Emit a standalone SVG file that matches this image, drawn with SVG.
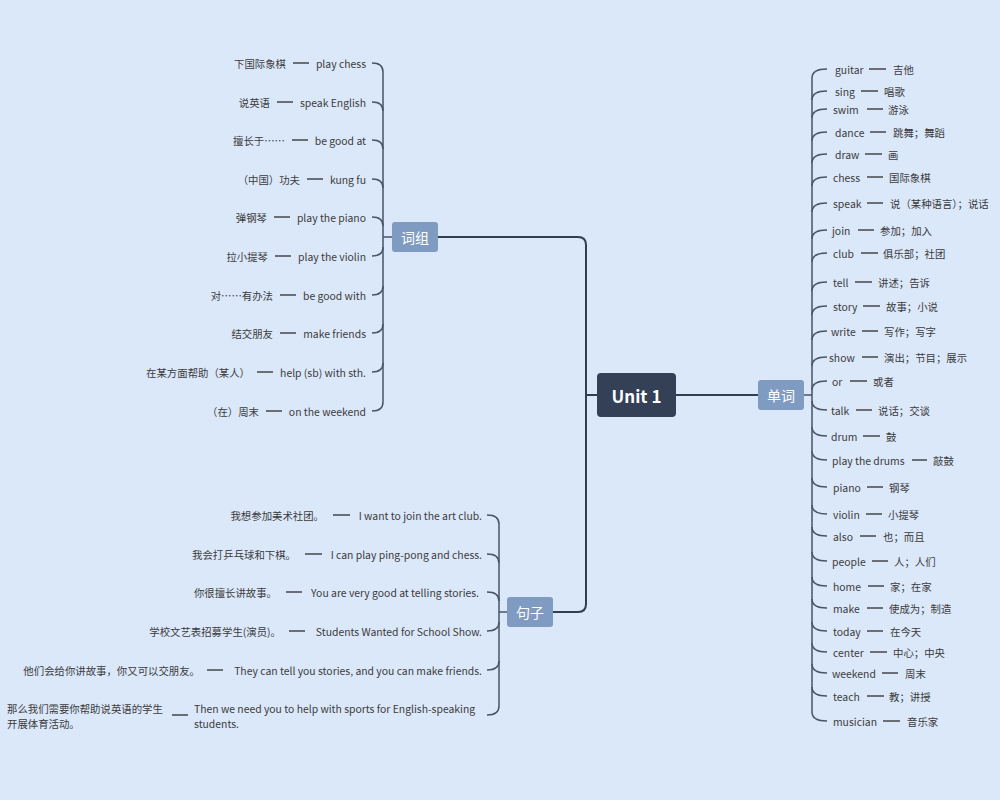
<svg xmlns="http://www.w3.org/2000/svg" width="1000" height="800" viewBox="0 0 1000 800">
<style>
.t{font-family:"Noto Sans CJK SC","Noto Sans",sans-serif;font-size:10.4px;fill:#3b3b3b;dominant-baseline:central}
.e{text-anchor:end}
.d{stroke:#3b3b3b;stroke-width:1.4}
.h{fill:none;stroke:#4a5465;stroke-width:1.5}
.tr{fill:none;stroke:#323d4f;stroke-width:2}
.cat{fill:#7f9bc1}
.ct{font-family:"Noto Sans CJK SC","Noto Sans",sans-serif;font-size:14px;fill:#fff;text-anchor:middle;dominant-baseline:central}
</style>
<rect width="1000" height="800" fill="#dbe8fa"/>
<g id="connectors">
<path class="tr" d="M438,237 H578 Q586,237 586,245 V604 Q586,612 578,612 H553"/>
<path class="tr" d="M586,395 H597"/>
<path class="tr" d="M676,395 H758"/>
<path class="h" d="M804,395 H812 M812,78 V712"/>
<path class="h" d="M392,237 H383 M383,72 V402"/>
<path class="h" d="M507,612 H499 M499,524 V706"/>
<g id="hooks-right">
<path class="h" d="M812,78 Q812,69 827,69"/>
<path class="h" d="M812,100 Q812,91 827,91"/>
<path class="h" d="M812,118 Q812,109 827,109"/>
<path class="h" d="M812,141 Q812,132 827,132"/>
<path class="h" d="M812,163 Q812,154 827,154"/>
<path class="h" d="M812,186 Q812,177 827,177"/>
<path class="h" d="M812,212 Q812,203 827,203"/>
<path class="h" d="M812,239 Q812,230 827,230"/>
<path class="h" d="M812,262 Q812,253 827,253"/>
<path class="h" d="M812,291 Q812,282 827,282"/>
<path class="h" d="M812,315 Q812,306 827,306"/>
<path class="h" d="M812,340 Q812,331 827,331"/>
<path class="h" d="M812,366 Q812,357 827,357"/>
<path class="h" d="M812,390 Q812,381 827,381"/>
<path class="h" d="M812,401 Q812,410 827,410"/>
<path class="h" d="M812,427 Q812,436 827,436"/>
<path class="h" d="M812,451 Q812,460 827,460"/>
<path class="h" d="M812,478 Q812,487 827,487"/>
<path class="h" d="M812,505 Q812,514 827,514"/>
<path class="h" d="M812,527 Q812,536 827,536"/>
<path class="h" d="M812,552 Q812,561 827,561"/>
<path class="h" d="M812,577 Q812,586 827,586"/>
<path class="h" d="M812,599 Q812,608 827,608"/>
<path class="h" d="M812,622 Q812,631 827,631"/>
<path class="h" d="M812,643 Q812,652 827,652"/>
<path class="h" d="M812,664 Q812,673 827,673"/>
<path class="h" d="M812,687 Q812,696 827,696"/>
<path class="h" d="M812,712 Q812,721 827,721"/>
</g>
<g id="hooks-left">
<path class="h" d="M372,63 Q383,63 383,72"/>
<path class="h" d="M372,102 Q383,102 383,111"/>
<path class="h" d="M372,140 Q383,140 383,149"/>
<path class="h" d="M372,179 Q383,179 383,188"/>
<path class="h" d="M372,217 Q383,217 383,226"/>
<path class="h" d="M372,256 Q383,256 383,247"/>
<path class="h" d="M372,295 Q383,295 383,286"/>
<path class="h" d="M372,333 Q383,333 383,324"/>
<path class="h" d="M372,372 Q383,372 383,363"/>
<path class="h" d="M372,411 Q383,411 383,402"/>
</g>
<g id="hooks-sentences">
<path class="h" d="M487,515 Q499,515 499,524"/>
<path class="h" d="M487,554 Q499,554 499,563"/>
<path class="h" d="M487,592 Q499,592 499,601"/>
<path class="h" d="M487,631 Q499,631 499,622"/>
<path class="h" d="M487,670 Q499,670 499,661"/>
<path class="h" d="M487,715 Q499,715 499,706"/>
</g>
</g>
<g id="root">
<rect x="597" y="373" width="79" height="44" rx="4" fill="#334056"/>
<text x="636.5" y="395" style="font-family:'Noto Sans CJK SC','Noto Sans',sans-serif;font-size:17px;font-weight:bold;fill:#fff;text-anchor:middle;dominant-baseline:central">Unit 1</text>
</g>
<g id="cat-phrases"><rect class="cat" x="392" y="222" width="46" height="30" rx="3"/><text class="ct" x="415" y="237">词组</text></g>
<g id="cat-sentences"><rect class="cat" x="507" y="597" width="46" height="30" rx="3"/><text class="ct" x="530" y="612">句子</text></g>
<g id="cat-words"><rect class="cat" x="758" y="380" width="46" height="30" rx="3"/><text class="ct" x="781" y="395">单词</text></g>
<g id="phrases">
<g id="p1"><text class="t e" x="286" y="63">下国际象棋</text><path class="d" d="M293,63H309"/><text class="t e" x="366" y="63">play chess</text></g>
<g id="p2"><text class="t e" x="270" y="102">说英语</text><path class="d" d="M277,102H293"/><text class="t e" x="366" y="102">speak English</text></g>
<g id="p3"><text class="t e" x="285" y="140">擅长于……</text><path class="d" d="M292,140H308"/><text class="t e" x="366" y="140">be good at</text></g>
<g id="p4"><text class="t e" x="300" y="179">（中国）功夫</text><path class="d" d="M307,179H323"/><text class="t e" x="366" y="179">kung fu</text></g>
<g id="p5"><text class="t e" x="267" y="217">弹钢琴</text><path class="d" d="M274,217H290"/><text class="t e" x="366" y="217">play the piano</text></g>
<g id="p6"><text class="t e" x="268" y="256">拉小提琴</text><path class="d" d="M275,256H291"/><text class="t e" x="366" y="256">play the violin</text></g>
<g id="p7"><text class="t e" x="273" y="295">对……有办法</text><path class="d" d="M280,295H296"/><text class="t e" x="366" y="295">be good with</text></g>
<g id="p8"><text class="t e" x="273" y="333">结交朋友</text><path class="d" d="M280,333H296"/><text class="t e" x="366" y="333">make friends</text></g>
<g id="p9"><text class="t e" x="250" y="372">在某方面帮助（某人）</text><path class="d" d="M257,372H273"/><text class="t e" x="366" y="372">help (sb) with sth.</text></g>
<g id="p10"><text class="t e" x="259" y="411">（在）周末</text><path class="d" d="M266,411H282"/><text class="t e" x="366" y="411">on the weekend</text></g>
</g>
<g id="sentences">
<g id="s1"><text class="t e" x="324" y="515">我想参加美术社团。</text><path class="d" d="M333,515H350"/><text class="t e" x="482" y="515">I want to join the art club.</text></g>
<g id="s2"><text class="t e" x="296" y="554">我会打乒乓球和下棋。</text><path class="d" d="M305,554H322"/><text class="t e" x="482" y="554">I can play ping-pong and chess.</text></g>
<g id="s3"><text class="t e" x="277" y="592">你很擅长讲故事。</text><path class="d" d="M286,592H302"/><text class="t e" x="479" y="592">You are very good at telling stories.</text></g>
<g id="s4"><text class="t e" x="281" y="631">学校文艺表招募学生(演员)。</text><path class="d" d="M289,631H305"/><text class="t e" x="482" y="631">Students Wanted for School Show.</text></g>
<g id="s5"><text class="t e" x="200" y="670">他们会给你讲故事，你又可以交朋友。</text><path class="d" d="M207,670H223"/><text class="t e" x="482" y="670">They can tell you stories, and you can make friends.</text></g>
<g id="s6"><text class="t" x="7" y="708">那么我们需要你帮助说英语的学生</text><text class="t" x="7" y="723">开展体育活动。</text><path class="d" d="M172,715H188"/><text class="t" x="194" y="708">Then we need you to help with sports for English-speaking</text><text class="t" x="194" y="723">students.</text></g>
</g>
<g id="words">
<g id="w1"><text class="t" x="835" y="69">guitar</text><path class="d" d="M869,69H886"/><text class="t" x="893" y="69">吉他</text></g>
<g id="w2"><text class="t" x="835" y="91">sing</text><path class="d" d="M861,91H878"/><text class="t" x="884" y="91">唱歌</text></g>
<g id="w3"><text class="t" x="833" y="109">swim</text><path class="d" d="M867,109H883"/><text class="t" x="888" y="109">游泳</text></g>
<g id="w4"><text class="t" x="835" y="132">dance</text><path class="d" d="M870,132H886"/><text class="t" x="893" y="132">跳舞；舞蹈</text></g>
<g id="w5"><text class="t" x="835" y="154">draw</text><path class="d" d="M865,154H882"/><text class="t" x="888" y="154">画</text></g>
<g id="w6"><text class="t" x="833" y="177">chess</text><path class="d" d="M867,177H883"/><text class="t" x="889" y="177">国际象棋</text></g>
<g id="w7"><text class="t" x="833" y="203">speak</text><path class="d" d="M867,203H883"/><text class="t" x="890" y="203">说（某种语言）；说话</text></g>
<g id="w8"><text class="t" x="832" y="230">join</text><path class="d" d="M858,230H874"/><text class="t" x="880" y="230">参加；加入</text></g>
<g id="w9"><text class="t" x="833" y="253">club</text><path class="d" d="M861,253H878"/><text class="t" x="883" y="253">俱乐部；社团</text></g>
<g id="w10"><text class="t" x="833" y="282">tell</text><path class="d" d="M855,282H872"/><text class="t" x="878" y="282">讲述；告诉</text></g>
<g id="w11"><text class="t" x="833" y="306">story</text><path class="d" d="M863,306H880"/><text class="t" x="886" y="306">故事；小说</text></g>
<g id="w12"><text class="t" x="831" y="331">write</text><path class="d" d="M862,331H878"/><text class="t" x="884" y="331">写作；写字</text></g>
<g id="w13"><text class="t" x="829" y="357">show</text><path class="d" d="M862,357H878"/><text class="t" x="884" y="357">演出；节目；展示</text></g>
<g id="w14"><text class="t" x="832" y="381">or</text><path class="d" d="M850,381H867"/><text class="t" x="873" y="381">或者</text></g>
<g id="w15"><text class="t" x="831" y="410">talk</text><path class="d" d="M856,410H872"/><text class="t" x="878" y="410">说话；交谈</text></g>
<g id="w16"><text class="t" x="831" y="436">drum</text><path class="d" d="M863,436H880"/><text class="t" x="886" y="436">鼓</text></g>
<g id="w17"><text class="t" x="832" y="460">play the drums</text><path class="d" d="M912,460H927"/><text class="t" x="933" y="460">敲鼓</text></g>
<g id="w18"><text class="t" x="833" y="487">piano</text><path class="d" d="M867,487H883"/><text class="t" x="889" y="487">钢琴</text></g>
<g id="w19"><text class="t" x="833" y="514">violin</text><path class="d" d="M866,514H882"/><text class="t" x="888" y="514">小提琴</text></g>
<g id="w20"><text class="t" x="833" y="536">also</text><path class="d" d="M860,536H876"/><text class="t" x="883" y="536">也；而且</text></g>
<g id="w21"><text class="t" x="832" y="561">people</text><path class="d" d="M872,561H888"/><text class="t" x="894" y="561">人；人们</text></g>
<g id="w22"><text class="t" x="833" y="586">home</text><path class="d" d="M868,586H884"/><text class="t" x="890" y="586">家；在家</text></g>
<g id="w23"><text class="t" x="833" y="608">make</text><path class="d" d="M867,608H883"/><text class="t" x="889" y="608">使成为；制造</text></g>
<g id="w24"><text class="t" x="833" y="631">today</text><path class="d" d="M867,631H883"/><text class="t" x="890" y="631">在今天</text></g>
<g id="w25"><text class="t" x="833" y="652">center</text><path class="d" d="M870,652H887"/><text class="t" x="893" y="652">中心；中央</text></g>
<g id="w26"><text class="t" x="832" y="673">weekend</text><path class="d" d="M882,673H898"/><text class="t" x="905" y="673">周末</text></g>
<g id="w27"><text class="t" x="833" y="696">teach</text><path class="d" d="M867,696H884"/><text class="t" x="889" y="696">教；讲授</text></g>
<g id="w28"><text class="t" x="833" y="721">musician</text><path class="d" d="M883,721H900"/><text class="t" x="907" y="721">音乐家</text></g>
</g>
</svg>
